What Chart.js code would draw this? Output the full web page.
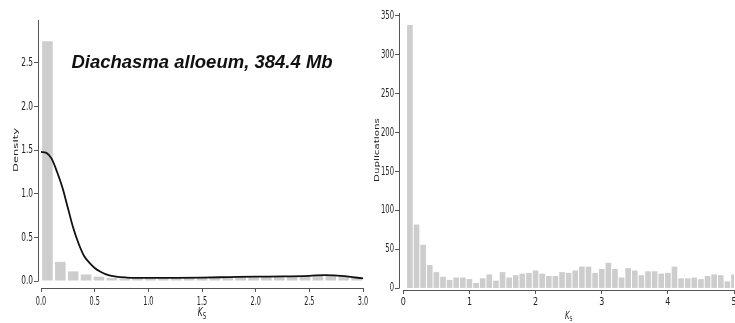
<!DOCTYPE html>
<html>
<head>
<meta charset="utf-8">
<title>Ks distribution</title>
<script src="https://cdn.jsdelivr.net/npm/chart.js@4"></script>
<style>
  html, body { margin: 0; background: #fff; width: 735px; height: 323px; overflow: hidden; position: relative; }
  canvas { position: absolute; top: 0; }
  #densityChart { left: 0; }
  #dupChart { left: 370px; }
</style>
</head>
<body>
<canvas id="densityChart" width="370" height="323"></canvas>
<canvas id="dupChart" width="380" height="323"></canvas>
<script>
// Left panel: Ks histogram (density, bin width 0.12) + smoothed density curve
const ksBinsA = [0.06, 0.18, 0.30, 0.42, 0.54, 0.66, 0.78, 0.90, 1.02, 1.14, 1.26, 1.38, 1.50,
                 1.62, 1.74, 1.86, 1.98, 2.10, 2.22, 2.34, 2.46, 2.58, 2.70, 2.82, 2.94];
const densityBars = [2.75, 0.22, 0.11, 0.075, 0.05, 0.035, 0.03, 0.03, 0.03, 0.03, 0.03, 0.035, 0.04,
                     0.04, 0.04, 0.045, 0.045, 0.05, 0.05, 0.05, 0.055, 0.065, 0.07, 0.06, 0.045];
const ksCurve = [0, 0.05, 0.1, 0.15, 0.2, 0.25, 0.3, 0.35, 0.4, 0.45, 0.5, 0.55, 0.6, 0.7, 0.8,
                 1.0, 1.25, 1.5, 1.75, 2.0, 2.25, 2.5, 2.65, 2.8, 2.9, 3.0];
const densityCurve = [1.48, 1.47, 1.40, 1.25, 1.07, 0.84, 0.61, 0.43, 0.29, 0.21, 0.15, 0.11, 0.08, 0.05, 0.04,
                      0.035, 0.037, 0.04, 0.045, 0.05, 0.053, 0.06, 0.068, 0.06, 0.045, 0.03];
const xTicksA = [0, 0.5, 1.0, 1.5, 2.0, 2.5, 3.0];
const xLabelsA = ['0.0', '0.5', '1.0', '1.5', '2.0', '2.5', '3.0'];
const yTicksA = [0, 0.5, 1.0, 1.5, 2.0, 2.5];
const yLabelsA = ['0.0', '0.5', '1.0', '1.5', '2.0', '2.5'];

// Right panel: number of duplications per Ks bin (width 0.1)
const ksBinsB = [0.1, 0.2, 0.3, 0.4, 0.5, 0.6, 0.7, 0.8, 0.9, 1.0, 1.1, 1.2, 1.3, 1.4, 1.5, 1.6, 1.7,
                 1.8, 1.9, 2.0, 2.1, 2.2, 2.3, 2.4, 2.5, 2.6, 2.7, 2.8, 2.9, 3.0, 3.1, 3.2, 3.3, 3.4,
                 3.5, 3.6, 3.7, 3.8, 3.9, 4.0, 4.1, 4.2, 4.3, 4.4, 4.5, 4.6, 4.7, 4.8, 4.9, 5.0];
const duplications = [338, 82, 56, 30, 21, 15, 11, 14, 14, 12, 7, 13, 18, 10, 21, 14, 17, 19, 20, 23,
                      19, 16, 16, 21, 20, 23, 28, 28, 20, 25, 33, 25, 14, 26, 23, 17, 22, 22, 19, 20,
                      28, 13, 13, 14, 12, 16, 18, 17, 9, 18];
const xTicksB = [0, 1, 2, 3, 4, 5];
const xLabelsB = ['0', '1', '2', '3', '4', '5'];
const yTicksB = [0, 50, 100, 150, 200, 250, 300, 350];
const yLabelsB = ['0', '50', '100', '150', '200', '250', '300', '350'];

const BAR_GREY = '#cdcdcd';
const AXIS_GREY = '#555';
const TEXT = '#222';

// text squeezed horizontally (the tick fonts are narrow)
function squeezed(ctx, text, px, py, sx) {
  ctx.save();
  ctx.translate(px, py);
  ctx.scale(sx, 1);
  ctx.fillText(text, 0, 0);
  ctx.restore();
}

// offset spines, tick labels, axis titles and the panel caption
const panelDecor = {
  id: 'panelDecor',
  afterDraw(chart, args, o) {
    const { ctx, chartArea: a, scales: { x, y } } = chart;
    ctx.save();
    ctx.strokeStyle = AXIS_GREY;
    ctx.lineWidth = 1;
    ctx.beginPath();
    const yZero = Math.round(y.getPixelForValue(0)) + 0.5;
    ctx.moveTo(Math.round(a.left) + 0.5, a.top);
    ctx.lineTo(Math.round(a.left) + 0.5, yZero);
    ctx.moveTo(x.getPixelForValue(0), Math.round(a.bottom) + 0.5);
    ctx.lineTo(x.getPixelForValue(x.max), Math.round(a.bottom) + 0.5);
    ctx.stroke();

    ctx.fillStyle = TEXT;
    ctx.font = `${o.xTickSize}px "DejaVu Sans"`;
    ctx.textAlign = 'center';
    ctx.textBaseline = 'alphabetic';
    o.xLabels.forEach((t, i) => squeezed(ctx, t, x.getPixelForValue(o.xTicks[i]), o.xTickBase, o.xSqueeze));

    ctx.font = `${o.yTickSize}px "DejaVu Sans"`;
    ctx.textAlign = 'right';
    ctx.textBaseline = 'middle';
    o.yLabels.forEach((t, i) => squeezed(ctx, t, a.left - 5, y.getPixelForValue(o.yTicks[i]), o.ySqueeze));

    // y title, rotated; glyph height squeezed along the screen x
    ctx.save();
    ctx.translate(o.yTitleX, o.yTitleY);
    ctx.rotate(-Math.PI / 2);
    ctx.scale(1, o.yTitleSqueeze);
    ctx.font = `${o.yTitleSize}px "DejaVu Sans"`;
    ctx.textAlign = 'center';
    ctx.textBaseline = 'middle';
    ctx.fillText(o.yTitle, 0, 0);
    ctx.restore();

    // x title: italic K with subscript S
    ctx.save();
    ctx.translate(x.getPixelForValue(o.xTitleAt), o.xTitleBase);
    ctx.scale(o.xTitleSqueeze, 1);
    ctx.textAlign = 'left';
    ctx.textBaseline = 'alphabetic';
    const big = `italic ${o.xTitleSize}px "DejaVu Sans"`;
    const small = `${Math.round(o.xTitleSize * 0.68)}px "DejaVu Sans"`;
    ctx.font = big;
    const kw = ctx.measureText('K').width;
    ctx.font = small;
    const sw = ctx.measureText('S').width;
    const start = -(kw + sw) / 2;
    ctx.font = big;
    ctx.fillText('K', start, 0);
    ctx.font = small;
    ctx.fillText('S', start + kw, o.xTitleSize * 0.22);
    ctx.restore();

    if (o.caption) {
      ctx.font = 'italic bold 18.5px "Liberation Sans", Arial, sans-serif';
      ctx.fillStyle = '#111';
      ctx.textAlign = 'center';
      ctx.textBaseline = 'middle';
      ctx.fillText(o.caption, x.getPixelForValue(o.captionAt[0]), y.getPixelForValue(o.captionAt[1]));
    }
    ctx.restore();
  }
};

function axis(min, max, ticks, fitSize, isX) {
  return {
    type: 'linear',
    min, max,
    offset: false,
    afterBuildTicks: s => { s.ticks = ticks.map(v => ({ value: v })); },
    afterFit: s => { if (isX) s.height = fitSize; else s.width = fitSize; },
    ticks: { display: false },
    border: { display: false },
    grid: { offset: false, drawOnChartArea: false, drawTicks: true, tickLength: 4, color: AXIS_GREY, lineWidth: 1 }
  };
}

new Chart(document.getElementById('densityChart'), {
  data: {
    datasets: [
      {
        type: 'line',
        data: ksCurve.map((k, i) => ({ x: k, y: densityCurve[i] })),
        borderColor: '#111',
        borderWidth: 1.8,
        pointRadius: 0,
        cubicInterpolationMode: 'monotone',
        order: 0
      },
      {
        type: 'bar',
        data: ksBinsA.map((k, i) => ({ x: k, y: densityBars[i] })),
        backgroundColor: BAR_GREY,
        barPercentage: 0.82,
        categoryPercentage: 1,
        order: 1
      }
    ]
  },
  options: {
    responsive: false,
    animation: false,
    layout: { padding: { left: 0, top: 20, right: 7, bottom: 0 } },
    scales: {
      x: axis(-0.028, 3.0, xTicksA, 35, true),
      y: axis(-0.08, 2.993, yTicksA, 38, false)
    },
    plugins: {
      legend: { display: false },
      tooltip: { enabled: false },
      panelDecor: {
        xTicks: xTicksA, xLabels: xLabelsA, xTickSize: 13, xTickBase: 305, xSqueeze: 0.5,
        yTicks: yTicksA, yLabels: yLabelsA, yTickSize: 12, ySqueeze: 0.62,
        yTitle: 'Density', yTitleSize: 11.6, yTitleX: 16.5, yTitleY: 150, yTitleSqueeze: 0.6,
        xTitleAt: 1.5, xTitleBase: 316, xTitleSize: 12.5, xTitleSqueeze: 0.6,
        caption: 'Diachasma alloeum, 384.4 Mb', captionAt: [1.5, 2.5]
      }
    }
  },
  plugins: [panelDecor]
});

new Chart(document.getElementById('dupChart'), {
  data: {
    datasets: [
      {
        type: 'bar',
        data: ksBinsB.map((k, i) => ({ x: k, y: duplications[i] })),
        backgroundColor: BAR_GREY,
        barPercentage: 0.85,
        categoryPercentage: 1
      }
    ]
  },
  options: {
    responsive: false,
    animation: false,
    layout: { padding: { left: 0, top: 13, right: 16, bottom: 0 } },
    scales: {
      x: axis(-0.065, 5.0, xTicksB, 33, true),
      y: axis(-2, 353.5, yTicksB, 29, false)
    },
    plugins: {
      legend: { display: false },
      tooltip: { enabled: false },
      panelDecor: {
        xTicks: xTicksB, xLabels: xLabelsB, xTickSize: 10, xTickBase: 305, xSqueeze: 0.8,
        yTicks: yTicksB, yLabels: yLabelsB, yTickSize: 11.4, ySqueeze: 0.6,
        yTitle: 'Duplications', yTitleSize: 10.3, yTitleX: 7.5, yTitleY: 150, yTitleSqueeze: 0.6,
        xTitleAt: 2.5, xTitleBase: 319, xTitleSize: 10.5, xTitleSqueeze: 0.65
      }
    }
  },
  plugins: [panelDecor]
});
</script>
</body>
</html>
